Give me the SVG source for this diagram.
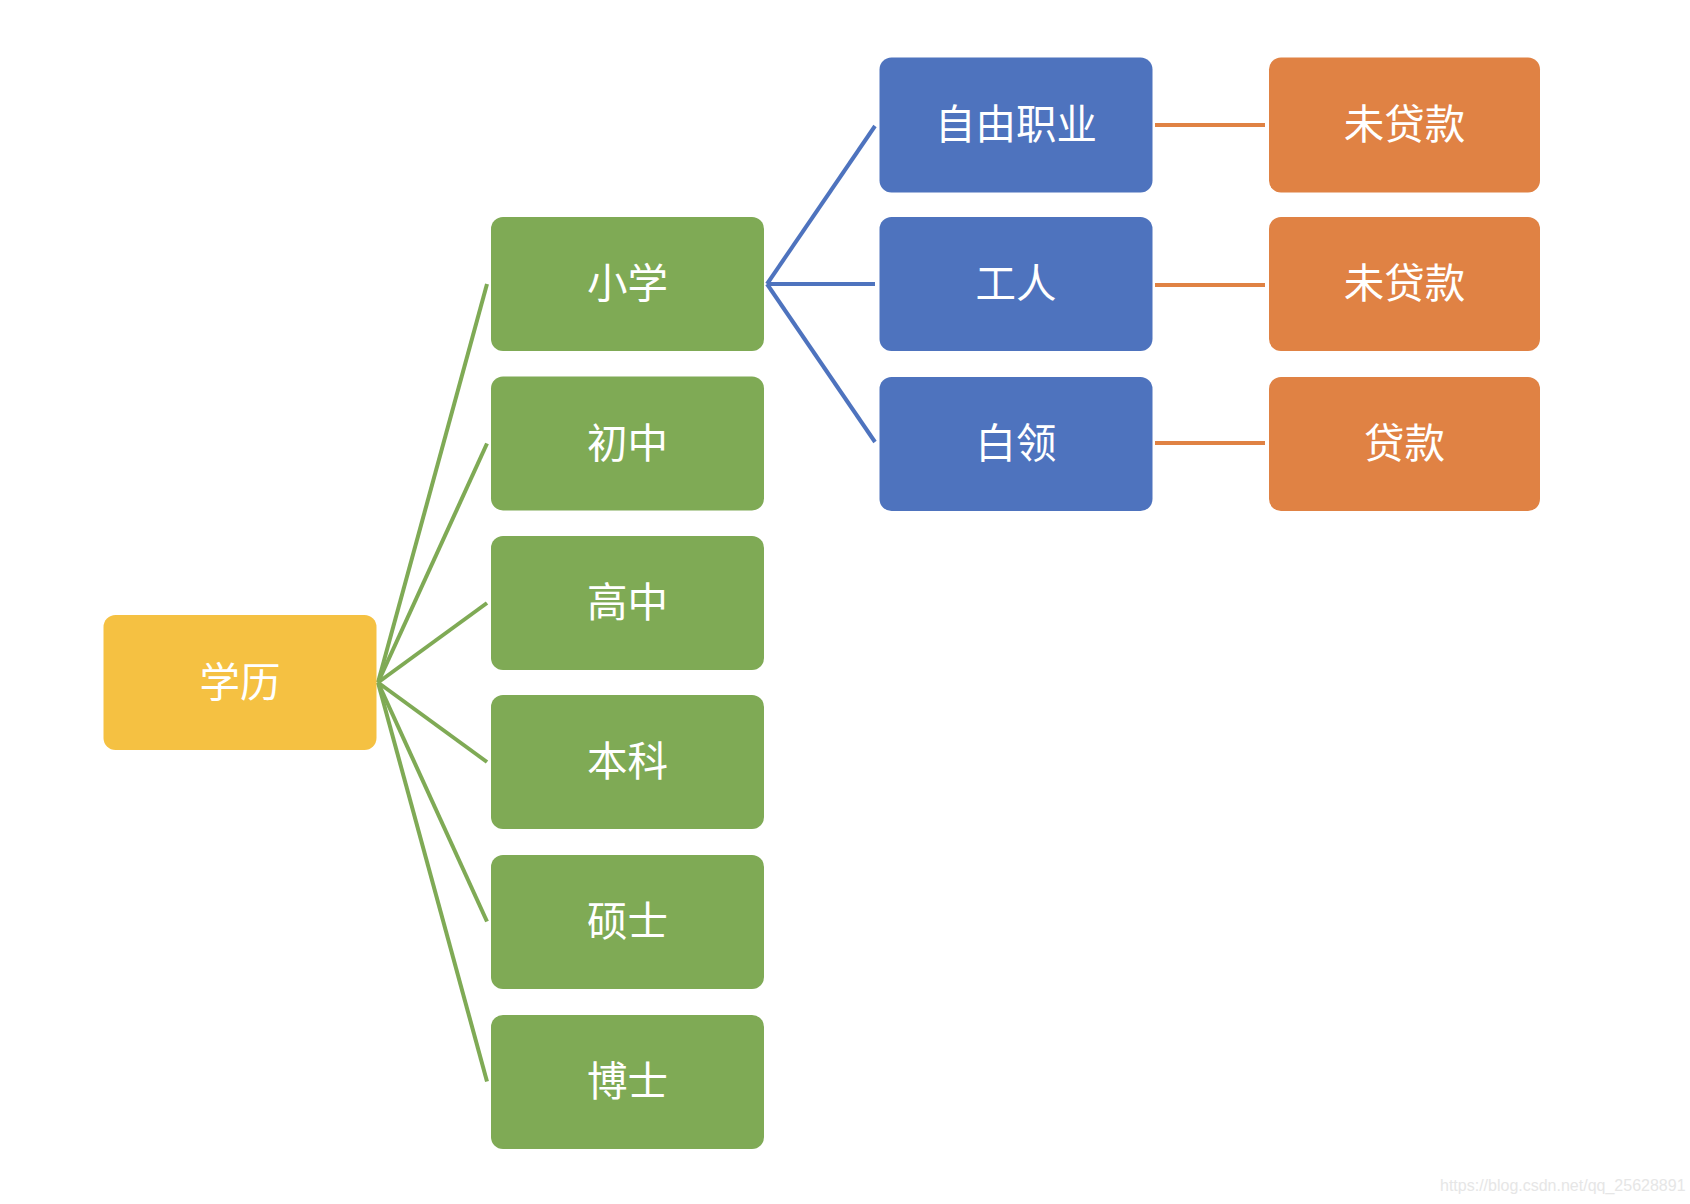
<svg xmlns="http://www.w3.org/2000/svg" width="1690" height="1204" viewBox="0 0 1690 1204">
<style>
.n{stroke:none}
.root{fill:#F5C142}
.edu{fill:#7FAA55}
.job{fill:#4E73BE}
.loan{fill:#E08244}
.t{font-family:"Noto Sans CJK SC","Noto Sans",sans-serif;font-size:40.5px;fill:#ffffff;text-anchor:middle;dominant-baseline:central}
.cg{stroke:#7FAA55;stroke-width:4;fill:none}
.cb{stroke:#4E73BE;stroke-width:4;fill:none}
.co{stroke:#E08244;stroke-width:4;fill:none}
.wm{font-family:"Liberation Sans",Arial,sans-serif;font-size:16px;fill:#e6e6e6}
</style>
<rect width="1690" height="1204" fill="#ffffff"/>
<g id="connectors">
<line class="cg" x1="378" y1="682.5" x2="487" y2="284"/>
<line class="cg" x1="378" y1="682.5" x2="487" y2="443.5"/>
<line class="cg" x1="378" y1="682.5" x2="487" y2="603"/>
<line class="cg" x1="378" y1="682.5" x2="487" y2="762"/>
<line class="cg" x1="378" y1="682.5" x2="487" y2="921.5"/>
<line class="cg" x1="378" y1="682.5" x2="487" y2="1081.5"/>
<line class="cb" x1="767" y1="284" x2="875" y2="126"/>
<line class="cb" x1="767" y1="284" x2="875" y2="284"/>
<line class="cb" x1="767" y1="284" x2="875" y2="442"/>
<line class="co" x1="1155" y1="125" x2="1265" y2="125"/>
<line class="co" x1="1155" y1="285" x2="1265" y2="285"/>
<line class="co" x1="1155" y1="443" x2="1265" y2="443"/>
</g>
<g id="n_xueli"><rect class="n root" x="103.5" y="615" width="273" height="135" rx="12"/><text class="t" x="240" y="679">学历</text></g>
<g id="n_xiaoxue"><rect class="n edu" x="491" y="217" width="273" height="134" rx="12"/><text class="t" x="627.5" y="280.5">小学</text></g>
<g id="n_chuzhong"><rect class="n edu" x="491" y="376.5" width="273" height="134" rx="12"/><text class="t" x="627.5" y="440">初中</text></g>
<g id="n_gaozhong"><rect class="n edu" x="491" y="536" width="273" height="134" rx="12"/><text class="t" x="627.5" y="599.5">高中</text></g>
<g id="n_benke"><rect class="n edu" x="491" y="695" width="273" height="134" rx="12"/><text class="t" x="627.5" y="758.5">本科</text></g>
<g id="n_shuoshi"><rect class="n edu" x="491" y="855" width="273" height="134" rx="12"/><text class="t" x="627.5" y="918.5">硕士</text></g>
<g id="n_boshi"><rect class="n edu" x="491" y="1015" width="273" height="134" rx="12"/><text class="t" x="627.5" y="1078.5">博士</text></g>
<g id="n_ziyou"><rect class="n job" x="879.5" y="57.5" width="273" height="135" rx="12"/><text class="t" x="1016" y="121.5">自由职业</text></g>
<g id="n_gongren"><rect class="n job" x="879.5" y="217" width="273" height="134" rx="12"/><text class="t" x="1016" y="280.5">工人</text></g>
<g id="n_bailing"><rect class="n job" x="879.5" y="377" width="273" height="134" rx="12"/><text class="t" x="1016" y="440.5">白领</text></g>
<g id="n_loan1"><rect class="n loan" x="1269" y="57.5" width="271" height="135" rx="12"/><text class="t" x="1404.5" y="121.5">未贷款</text></g>
<g id="n_loan2"><rect class="n loan" x="1269" y="217" width="271" height="134" rx="12"/><text class="t" x="1404.5" y="280.5">未贷款</text></g>
<g id="n_loan3"><rect class="n loan" x="1269" y="377" width="271" height="134" rx="12"/><text class="t" x="1404.5" y="440.5">贷款</text></g>
<text class="wm" x="1440" y="1191">https://blog.csdn.net/qq_25628891</text>
</svg>
